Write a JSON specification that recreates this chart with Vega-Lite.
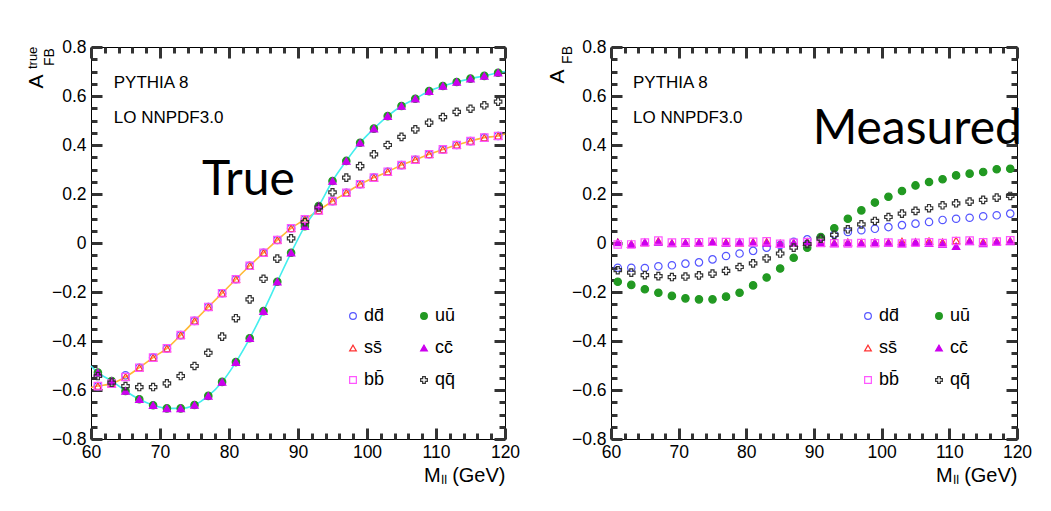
{
  "$schema": "https://vega.github.io/schema/vega-lite/v6.json",
  "background": "white",
  "padding": {"left": 24, "top": 37, "right": 5, "bottom": 5},
  "autosize": {"type": "pad"},
  "config": {
    "view": {"stroke": "#000", "strokeWidth": 1},
    "axis": {"zindex": 1, "labelColor": "#000", "titleColor": "#000", "labelFont": "Liberation Sans", "titleFont": "Liberation Sans", "titleFontWeight": "normal", "grid": false, "domain": false},
    "text": {"font": "Liberation Sans"}
  },
  "datasets": {
    "true_curves": [
      {"m":60,"c":"o","a":-0.590},{"m":61,"c":"o","a":-0.584},{"m":63,"c":"o","a":-0.574},{"m":65,"c":"o","a":-0.547},{"m":67,"c":"o","a":-0.509},{"m":69,"c":"o","a":-0.468},{"m":71,"c":"o","a":-0.430},{"m":73,"c":"o","a":-0.376},{"m":75,"c":"o","a":-0.318},{"m":77,"c":"o","a":-0.261},{"m":79,"c":"o","a":-0.205},{"m":81,"c":"o","a":-0.148},{"m":83,"c":"o","a":-0.093},{"m":85,"c":"o","a":-0.040},{"m":87,"c":"o","a":0.012},{"m":89,"c":"o","a":0.060},{"m":91,"c":"o","a":0.097},{"m":93,"c":"o","a":0.133},{"m":95,"c":"o","a":0.171},{"m":97,"c":"o","a":0.205},{"m":99,"c":"o","a":0.240},{"m":101,"c":"o","a":0.267},{"m":103,"c":"o","a":0.291},{"m":105,"c":"o","a":0.318},{"m":107,"c":"o","a":0.340},{"m":109,"c":"o","a":0.362},{"m":111,"c":"o","a":0.382},{"m":113,"c":"o","a":0.400},{"m":115,"c":"o","a":0.416},{"m":117,"c":"o","a":0.430},{"m":119,"c":"o","a":0.437},{"m":120,"c":"o","a":0.445},
      {"m":60,"c":"c","a":-0.502},{"m":61,"c":"c","a":-0.529},{"m":63,"c":"c","a":-0.563},{"m":65,"c":"c","a":-0.604},{"m":67,"c":"c","a":-0.638},{"m":69,"c":"c","a":-0.662},{"m":71,"c":"c","a":-0.675},{"m":73,"c":"c","a":-0.675},{"m":75,"c":"c","a":-0.661},{"m":77,"c":"c","a":-0.624},{"m":79,"c":"c","a":-0.567},{"m":81,"c":"c","a":-0.486},{"m":83,"c":"c","a":-0.389},{"m":85,"c":"c","a":-0.278},{"m":87,"c":"c","a":-0.158},{"m":89,"c":"c","a":-0.040},{"m":91,"c":"c","a":0.069},{"m":93,"c":"c","a":0.151},{"m":95,"c":"c","a":0.253},{"m":97,"c":"c","a":0.335},{"m":99,"c":"c","a":0.409},{"m":101,"c":"c","a":0.467},{"m":103,"c":"c","a":0.518},{"m":105,"c":"c","a":0.559},{"m":107,"c":"c","a":0.589},{"m":109,"c":"c","a":0.620},{"m":111,"c":"c","a":0.641},{"m":113,"c":"c","a":0.657},{"m":115,"c":"c","a":0.671},{"m":117,"c":"c","a":0.682},{"m":119,"c":"c","a":0.695},{"m":120,"c":"c","a":0.700}
    ],
    "true_points": [
      {"m":61,"s":"dd\u0304","a":-0.584},{"m":63,"s":"dd\u0304","a":-0.574},{"m":65,"s":"dd\u0304","a":-0.540},{"m":67,"s":"dd\u0304","a":-0.509},{"m":69,"s":"dd\u0304","a":-0.468},{"m":71,"s":"dd\u0304","a":-0.430},{"m":73,"s":"dd\u0304","a":-0.376},{"m":75,"s":"dd\u0304","a":-0.318},{"m":77,"s":"dd\u0304","a":-0.261},{"m":79,"s":"dd\u0304","a":-0.205},{"m":81,"s":"dd\u0304","a":-0.148},{"m":83,"s":"dd\u0304","a":-0.093},{"m":85,"s":"dd\u0304","a":-0.040},{"m":87,"s":"dd\u0304","a":0.012},{"m":89,"s":"dd\u0304","a":0.060},{"m":91,"s":"dd\u0304","a":0.097},{"m":93,"s":"dd\u0304","a":0.133},{"m":95,"s":"dd\u0304","a":0.171},{"m":97,"s":"dd\u0304","a":0.205},{"m":99,"s":"dd\u0304","a":0.240},{"m":101,"s":"dd\u0304","a":0.267},{"m":103,"s":"dd\u0304","a":0.291},{"m":105,"s":"dd\u0304","a":0.318},{"m":107,"s":"dd\u0304","a":0.340},{"m":109,"s":"dd\u0304","a":0.362},{"m":111,"s":"dd\u0304","a":0.382},{"m":113,"s":"dd\u0304","a":0.400},{"m":115,"s":"dd\u0304","a":0.416},{"m":117,"s":"dd\u0304","a":0.430},{"m":119,"s":"dd\u0304","a":0.437},
      {"m":61,"s":"uu\u0304","a":-0.529},{"m":63,"s":"uu\u0304","a":-0.563},{"m":65,"s":"uu\u0304","a":-0.604},{"m":67,"s":"uu\u0304","a":-0.638},{"m":69,"s":"uu\u0304","a":-0.662},{"m":71,"s":"uu\u0304","a":-0.675},{"m":73,"s":"uu\u0304","a":-0.675},{"m":75,"s":"uu\u0304","a":-0.661},{"m":77,"s":"uu\u0304","a":-0.624},{"m":79,"s":"uu\u0304","a":-0.567},{"m":81,"s":"uu\u0304","a":-0.486},{"m":83,"s":"uu\u0304","a":-0.389},{"m":85,"s":"uu\u0304","a":-0.278},{"m":87,"s":"uu\u0304","a":-0.158},{"m":89,"s":"uu\u0304","a":-0.040},{"m":91,"s":"uu\u0304","a":0.069},{"m":93,"s":"uu\u0304","a":0.151},{"m":95,"s":"uu\u0304","a":0.253},{"m":97,"s":"uu\u0304","a":0.335},{"m":99,"s":"uu\u0304","a":0.409},{"m":101,"s":"uu\u0304","a":0.467},{"m":103,"s":"uu\u0304","a":0.518},{"m":105,"s":"uu\u0304","a":0.559},{"m":107,"s":"uu\u0304","a":0.589},{"m":109,"s":"uu\u0304","a":0.620},{"m":111,"s":"uu\u0304","a":0.641},{"m":113,"s":"uu\u0304","a":0.657},{"m":115,"s":"uu\u0304","a":0.671},{"m":117,"s":"uu\u0304","a":0.682},{"m":119,"s":"uu\u0304","a":0.695},
      {"m":61,"s":"ss\u0304","a":-0.584},{"m":63,"s":"ss\u0304","a":-0.574},{"m":65,"s":"ss\u0304","a":-0.547},{"m":67,"s":"ss\u0304","a":-0.509},{"m":69,"s":"ss\u0304","a":-0.468},{"m":71,"s":"ss\u0304","a":-0.430},{"m":73,"s":"ss\u0304","a":-0.376},{"m":75,"s":"ss\u0304","a":-0.318},{"m":77,"s":"ss\u0304","a":-0.261},{"m":79,"s":"ss\u0304","a":-0.205},{"m":81,"s":"ss\u0304","a":-0.148},{"m":83,"s":"ss\u0304","a":-0.093},{"m":85,"s":"ss\u0304","a":-0.040},{"m":87,"s":"ss\u0304","a":0.012},{"m":89,"s":"ss\u0304","a":0.060},{"m":91,"s":"ss\u0304","a":0.097},{"m":93,"s":"ss\u0304","a":0.133},{"m":95,"s":"ss\u0304","a":0.171},{"m":97,"s":"ss\u0304","a":0.205},{"m":99,"s":"ss\u0304","a":0.240},{"m":101,"s":"ss\u0304","a":0.267},{"m":103,"s":"ss\u0304","a":0.291},{"m":105,"s":"ss\u0304","a":0.318},{"m":107,"s":"ss\u0304","a":0.340},{"m":109,"s":"ss\u0304","a":0.362},{"m":111,"s":"ss\u0304","a":0.382},{"m":113,"s":"ss\u0304","a":0.400},{"m":115,"s":"ss\u0304","a":0.416},{"m":117,"s":"ss\u0304","a":0.430},{"m":119,"s":"ss\u0304","a":0.437},
      {"m":61,"s":"cc\u0304","a":-0.529},{"m":63,"s":"cc\u0304","a":-0.563},{"m":65,"s":"cc\u0304","a":-0.604},{"m":67,"s":"cc\u0304","a":-0.638},{"m":69,"s":"cc\u0304","a":-0.662},{"m":71,"s":"cc\u0304","a":-0.675},{"m":73,"s":"cc\u0304","a":-0.675},{"m":75,"s":"cc\u0304","a":-0.661},{"m":77,"s":"cc\u0304","a":-0.624},{"m":79,"s":"cc\u0304","a":-0.567},{"m":81,"s":"cc\u0304","a":-0.486},{"m":83,"s":"cc\u0304","a":-0.389},{"m":85,"s":"cc\u0304","a":-0.278},{"m":87,"s":"cc\u0304","a":-0.158},{"m":89,"s":"cc\u0304","a":-0.040},{"m":91,"s":"cc\u0304","a":0.069},{"m":93,"s":"cc\u0304","a":0.151},{"m":95,"s":"cc\u0304","a":0.253},{"m":97,"s":"cc\u0304","a":0.335},{"m":99,"s":"cc\u0304","a":0.409},{"m":101,"s":"cc\u0304","a":0.467},{"m":103,"s":"cc\u0304","a":0.518},{"m":105,"s":"cc\u0304","a":0.559},{"m":107,"s":"cc\u0304","a":0.589},{"m":109,"s":"cc\u0304","a":0.620},{"m":111,"s":"cc\u0304","a":0.641},{"m":113,"s":"cc\u0304","a":0.657},{"m":115,"s":"cc\u0304","a":0.671},{"m":117,"s":"cc\u0304","a":0.682},{"m":119,"s":"cc\u0304","a":0.695},
      {"m":61,"s":"bb\u0304","a":-0.584},{"m":63,"s":"bb\u0304","a":-0.574},{"m":65,"s":"bb\u0304","a":-0.547},{"m":67,"s":"bb\u0304","a":-0.509},{"m":69,"s":"bb\u0304","a":-0.468},{"m":71,"s":"bb\u0304","a":-0.430},{"m":73,"s":"bb\u0304","a":-0.376},{"m":75,"s":"bb\u0304","a":-0.318},{"m":77,"s":"bb\u0304","a":-0.261},{"m":79,"s":"bb\u0304","a":-0.205},{"m":81,"s":"bb\u0304","a":-0.148},{"m":83,"s":"bb\u0304","a":-0.093},{"m":85,"s":"bb\u0304","a":-0.040},{"m":87,"s":"bb\u0304","a":0.012},{"m":89,"s":"bb\u0304","a":0.060},{"m":91,"s":"bb\u0304","a":0.097},{"m":93,"s":"bb\u0304","a":0.133},{"m":95,"s":"bb\u0304","a":0.171},{"m":97,"s":"bb\u0304","a":0.205},{"m":99,"s":"bb\u0304","a":0.240},{"m":101,"s":"bb\u0304","a":0.267},{"m":103,"s":"bb\u0304","a":0.291},{"m":105,"s":"bb\u0304","a":0.318},{"m":107,"s":"bb\u0304","a":0.340},{"m":109,"s":"bb\u0304","a":0.362},{"m":111,"s":"bb\u0304","a":0.382},{"m":113,"s":"bb\u0304","a":0.400},{"m":115,"s":"bb\u0304","a":0.416},{"m":117,"s":"bb\u0304","a":0.430},{"m":119,"s":"bb\u0304","a":0.437},
      {"m":61,"s":"qq\u0304","a":-0.543},{"m":63,"s":"qq\u0304","a":-0.570},{"m":65,"s":"qq\u0304","a":-0.584},{"m":67,"s":"qq\u0304","a":-0.588},{"m":69,"s":"qq\u0304","a":-0.588},{"m":71,"s":"qq\u0304","a":-0.573},{"m":73,"s":"qq\u0304","a":-0.543},{"m":75,"s":"qq\u0304","a":-0.502},{"m":77,"s":"qq\u0304","a":-0.448},{"m":79,"s":"qq\u0304","a":-0.382},{"m":81,"s":"qq\u0304","a":-0.307},{"m":83,"s":"qq\u0304","a":-0.230},{"m":85,"s":"qq\u0304","a":-0.146},{"m":87,"s":"qq\u0304","a":-0.064},{"m":89,"s":"qq\u0304","a":0.019},{"m":91,"s":"qq\u0304","a":0.085},{"m":93,"s":"qq\u0304","a":0.145},{"m":95,"s":"qq\u0304","a":0.207},{"m":97,"s":"qq\u0304","a":0.267},{"m":99,"s":"qq\u0304","a":0.314},{"m":101,"s":"qq\u0304","a":0.362},{"m":103,"s":"qq\u0304","a":0.400},{"m":105,"s":"qq\u0304","a":0.433},{"m":107,"s":"qq\u0304","a":0.464},{"m":109,"s":"qq\u0304","a":0.491},{"m":111,"s":"qq\u0304","a":0.514},{"m":113,"s":"qq\u0304","a":0.535},{"m":115,"s":"qq\u0304","a":0.548},{"m":117,"s":"qq\u0304","a":0.562},{"m":119,"s":"qq\u0304","a":0.577}
    ],
    "meas_points": [
      {"m":61,"s":"dd\u0304","a":-0.101},{"m":63,"s":"dd\u0304","a":-0.101},{"m":65,"s":"dd\u0304","a":-0.102},{"m":67,"s":"dd\u0304","a":-0.095},{"m":69,"s":"dd\u0304","a":-0.091},{"m":71,"s":"dd\u0304","a":-0.084},{"m":73,"s":"dd\u0304","a":-0.079},{"m":75,"s":"dd\u0304","a":-0.067},{"m":77,"s":"dd\u0304","a":-0.053},{"m":79,"s":"dd\u0304","a":-0.043},{"m":81,"s":"dd\u0304","a":-0.032},{"m":83,"s":"dd\u0304","a":-0.019},{"m":85,"s":"dd\u0304","a":-0.008},{"m":87,"s":"dd\u0304","a":0.005},{"m":89,"s":"dd\u0304","a":0.015},{"m":91,"s":"dd\u0304","a":0.022},{"m":93,"s":"dd\u0304","a":0.035},{"m":95,"s":"dd\u0304","a":0.045},{"m":97,"s":"dd\u0304","a":0.052},{"m":99,"s":"dd\u0304","a":0.058},{"m":101,"s":"dd\u0304","a":0.065},{"m":103,"s":"dd\u0304","a":0.073},{"m":105,"s":"dd\u0304","a":0.079},{"m":107,"s":"dd\u0304","a":0.086},{"m":109,"s":"dd\u0304","a":0.094},{"m":111,"s":"dd\u0304","a":0.099},{"m":113,"s":"dd\u0304","a":0.103},{"m":115,"s":"dd\u0304","a":0.109},{"m":117,"s":"dd\u0304","a":0.113},{"m":119,"s":"dd\u0304","a":0.120},
      {"m":61,"s":"uu\u0304","a":-0.158},{"m":63,"s":"uu\u0304","a":-0.171},{"m":65,"s":"uu\u0304","a":-0.189},{"m":67,"s":"uu\u0304","a":-0.203},{"m":69,"s":"uu\u0304","a":-0.216},{"m":71,"s":"uu\u0304","a":-0.226},{"m":73,"s":"uu\u0304","a":-0.230},{"m":75,"s":"uu\u0304","a":-0.230},{"m":77,"s":"uu\u0304","a":-0.219},{"m":79,"s":"uu\u0304","a":-0.203},{"m":81,"s":"uu\u0304","a":-0.173},{"m":83,"s":"uu\u0304","a":-0.141},{"m":85,"s":"uu\u0304","a":-0.104},{"m":87,"s":"uu\u0304","a":-0.060},{"m":89,"s":"uu\u0304","a":-0.019},{"m":91,"s":"uu\u0304","a":0.024},{"m":93,"s":"uu\u0304","a":0.060},{"m":95,"s":"uu\u0304","a":0.099},{"m":97,"s":"uu\u0304","a":0.133},{"m":99,"s":"uu\u0304","a":0.165},{"m":101,"s":"uu\u0304","a":0.189},{"m":103,"s":"uu\u0304","a":0.212},{"m":105,"s":"uu\u0304","a":0.235},{"m":107,"s":"uu\u0304","a":0.249},{"m":109,"s":"uu\u0304","a":0.260},{"m":111,"s":"uu\u0304","a":0.276},{"m":113,"s":"uu\u0304","a":0.283},{"m":115,"s":"uu\u0304","a":0.290},{"m":117,"s":"uu\u0304","a":0.301},{"m":119,"s":"uu\u0304","a":0.303},
      {"m":61,"s":"ss\u0304","a":0.003},{"m":63,"s":"ss\u0304","a":-0.004},{"m":65,"s":"ss\u0304","a":0.002},{"m":67,"s":"ss\u0304","a":0.008},{"m":69,"s":"ss\u0304","a":0.000},{"m":71,"s":"ss\u0304","a":0.001},{"m":73,"s":"ss\u0304","a":0.002},{"m":75,"s":"ss\u0304","a":0.004},{"m":77,"s":"ss\u0304","a":0.003},{"m":79,"s":"ss\u0304","a":0.000},{"m":81,"s":"ss\u0304","a":0.004},{"m":83,"s":"ss\u0304","a":0.005},{"m":85,"s":"ss\u0304","a":-0.002},{"m":87,"s":"ss\u0304","a":0.001},{"m":89,"s":"ss\u0304","a":0.004},{"m":91,"s":"ss\u0304","a":0.002},{"m":93,"s":"ss\u0304","a":0.000},{"m":95,"s":"ss\u0304","a":0.003},{"m":97,"s":"ss\u0304","a":0.001},{"m":99,"s":"ss\u0304","a":0.002},{"m":101,"s":"ss\u0304","a":0.003},{"m":103,"s":"ss\u0304","a":0.006},{"m":105,"s":"ss\u0304","a":0.004},{"m":107,"s":"ss\u0304","a":0.008},{"m":109,"s":"ss\u0304","a":0.003},{"m":111,"s":"ss\u0304","a":0.010},{"m":113,"s":"ss\u0304","a":0.009},{"m":115,"s":"ss\u0304","a":0.004},{"m":117,"s":"ss\u0304","a":0.007},{"m":119,"s":"ss\u0304","a":0.009},
      {"m":61,"s":"cc\u0304","a":0.002},{"m":63,"s":"cc\u0304","a":-0.005},{"m":65,"s":"cc\u0304","a":0.003},{"m":67,"s":"cc\u0304","a":0.004},{"m":69,"s":"cc\u0304","a":-0.002},{"m":71,"s":"cc\u0304","a":0.000},{"m":73,"s":"cc\u0304","a":0.001},{"m":75,"s":"cc\u0304","a":0.003},{"m":77,"s":"cc\u0304","a":0.000},{"m":79,"s":"cc\u0304","a":0.004},{"m":81,"s":"cc\u0304","a":0.001},{"m":83,"s":"cc\u0304","a":0.000},{"m":85,"s":"cc\u0304","a":-0.003},{"m":87,"s":"cc\u0304","a":0.000},{"m":89,"s":"cc\u0304","a":0.003},{"m":91,"s":"cc\u0304","a":0.000},{"m":93,"s":"cc\u0304","a":-0.002},{"m":95,"s":"cc\u0304","a":0.001},{"m":97,"s":"cc\u0304","a":-0.002},{"m":99,"s":"cc\u0304","a":0.002},{"m":101,"s":"cc\u0304","a":0.000},{"m":103,"s":"cc\u0304","a":-0.002},{"m":105,"s":"cc\u0304","a":0.003},{"m":107,"s":"cc\u0304","a":-0.001},{"m":109,"s":"cc\u0304","a":-0.004},{"m":111,"s":"cc\u0304","a":-0.013},{"m":113,"s":"cc\u0304","a":0.006},{"m":115,"s":"cc\u0304","a":-0.002},{"m":117,"s":"cc\u0304","a":0.004},{"m":119,"s":"cc\u0304","a":0.006},
      {"m":61,"s":"bb\u0304","a":-0.006},{"m":63,"s":"bb\u0304","a":-0.006},{"m":65,"s":"bb\u0304","a":0.002},{"m":67,"s":"bb\u0304","a":0.010},{"m":69,"s":"bb\u0304","a":0.002},{"m":71,"s":"bb\u0304","a":0.003},{"m":73,"s":"bb\u0304","a":0.003},{"m":75,"s":"bb\u0304","a":0.005},{"m":77,"s":"bb\u0304","a":0.004},{"m":79,"s":"bb\u0304","a":0.002},{"m":81,"s":"bb\u0304","a":0.005},{"m":83,"s":"bb\u0304","a":0.007},{"m":85,"s":"bb\u0304","a":-0.003},{"m":87,"s":"bb\u0304","a":0.001},{"m":89,"s":"bb\u0304","a":0.004},{"m":91,"s":"bb\u0304","a":0.000},{"m":93,"s":"bb\u0304","a":-0.001},{"m":95,"s":"bb\u0304","a":-0.002},{"m":97,"s":"bb\u0304","a":0.000},{"m":99,"s":"bb\u0304","a":-0.001},{"m":101,"s":"bb\u0304","a":0.002},{"m":103,"s":"bb\u0304","a":-0.002},{"m":105,"s":"bb\u0304","a":0.001},{"m":107,"s":"bb\u0304","a":0.003},{"m":109,"s":"bb\u0304","a":0.000},{"m":111,"s":"bb\u0304","a":0.008},{"m":113,"s":"bb\u0304","a":0.010},{"m":115,"s":"bb\u0304","a":0.003},{"m":117,"s":"bb\u0304","a":0.006},{"m":119,"s":"bb\u0304","a":0.011},
      {"m":61,"s":"qq\u0304","a":-0.111},{"m":63,"s":"qq\u0304","a":-0.121},{"m":65,"s":"qq\u0304","a":-0.131},{"m":67,"s":"qq\u0304","a":-0.135},{"m":69,"s":"qq\u0304","a":-0.139},{"m":71,"s":"qq\u0304","a":-0.137},{"m":73,"s":"qq\u0304","a":-0.132},{"m":75,"s":"qq\u0304","a":-0.125},{"m":77,"s":"qq\u0304","a":-0.114},{"m":79,"s":"qq\u0304","a":-0.098},{"m":81,"s":"qq\u0304","a":-0.083},{"m":83,"s":"qq\u0304","a":-0.063},{"m":85,"s":"qq\u0304","a":-0.043},{"m":87,"s":"qq\u0304","a":-0.019},{"m":89,"s":"qq\u0304","a":-0.004},{"m":91,"s":"qq\u0304","a":0.018},{"m":93,"s":"qq\u0304","a":0.033},{"m":95,"s":"qq\u0304","a":0.056},{"m":97,"s":"qq\u0304","a":0.076},{"m":99,"s":"qq\u0304","a":0.090},{"m":101,"s":"qq\u0304","a":0.106},{"m":103,"s":"qq\u0304","a":0.120},{"m":105,"s":"qq\u0304","a":0.131},{"m":107,"s":"qq\u0304","a":0.142},{"m":109,"s":"qq\u0304","a":0.154},{"m":111,"s":"qq\u0304","a":0.162},{"m":113,"s":"qq\u0304","a":0.169},{"m":115,"s":"qq\u0304","a":0.176},{"m":117,"s":"qq\u0304","a":0.185},{"m":119,"s":"qq\u0304","a":0.192}
    ],
    "notes_left": [{"m":63.3,"a":0.631,"t":"PYTHIA 8"},{"m":63.3,"a":0.491,"t":"LO NNPDF3.0"}],
    "notes_right": [{"m":63.25,"a":0.631,"t":"PYTHIA 8"},{"m":63.25,"a":0.491,"t":"LO NNPDF3.0"}],
    "big_left": [{"m":76.1,"a":0.196,"t":"True"}],
    "big_right": [{"m":89.8,"a":0.404,"t":"Measured"}],
    "sub_left": [{"m":54.64,"a":0.722,"t":"FB"}],
    "sup_left": [{"m":52.17,"a":0.710,"t":"true"}],
    "sub_right": [{"m":54.24,"a":0.731,"t":"FB"}]
  },
  "resolve": {"scale": {"fill": "independent", "stroke": "independent", "shape": "independent", "color": "independent"}},
  "spacing": 24,
  "hconcat": [
    {
      "width": 414, "height": 392,
      "resolve": {"axis": {"x": "independent", "y": "independent"}},
      "layer": [
        {"mark": {"type": "rule", "color": "#9a9a9a", "strokeWidth": 1.5},
         "encoding": {"x": {"datum": 91.19, "type": "quantitative", "scale": {"domain": [60, 120], "nice": false, "zero": false}, "axis": null}}},
        {"mark": {"type": "rule", "color": "#000", "strokeWidth": 1},
         "encoding": {"y": {"datum": 0, "type": "quantitative", "scale": {"domain": [-0.8, 0.8], "nice": false, "zero": false}, "axis": null}}},
        {"data": {"name": "true_curves"},
         "mark": {"type": "line", "interpolate": "monotone", "strokeWidth": 1.6},
         "encoding": {
           "x": {"field": "m", "type": "quantitative", "scale": {"domain": [60, 120], "nice": false, "zero": false},
                 "axis": {"orient": "bottom", "offset": -11, "values": [60,70,80,90,100,110,120], "format": "d", "tickSize": 11, "tickColor": "#333333", "tickWidth": 3, "labelPadding": 4, "labelFontSize": 17.5, "labelFlush": false, "labelOverlap": false, "title": "Mₗₗ (GeV)", "titleAnchor": "end", "titleFontSize": 20, "titlePadding": 5}},
           "y": {"field": "a", "type": "quantitative", "scale": {"domain": [-0.8, 0.8], "nice": false, "zero": false},
                 "axis": {"orient": "left", "offset": -11, "values": [-0.8,-0.6,-0.4,-0.2,0,0.2,0.4,0.6,0.8], "format": ".1~f", "tickSize": 11, "tickColor": "#333333", "tickWidth": 3, "labelPadding": 5, "labelFontSize": 17.5, "labelFlush": false, "labelOverlap": false, "title": "A", "titleAngle": 270, "titleAlign": "left", "titleBaseline": "alphabetic", "titleX": -60, "titleY": 41, "titleFontSize": 21}},
           "color": {"field": "c", "type": "nominal", "scale": {"domain": ["o", "c"], "range": ["#ffb833", "#44eeee"]}, "legend": null}
         }},
        {"data": {"name": "true_points"},
         "mark": {"type": "point", "size": 55, "strokeWidth": 1.2, "opacity": 1},
         "encoding": {
           "x": {"field": "m", "type": "quantitative", "scale": {"domain": [60, 120], "nice": false, "zero": false},
                 "axis": {"orient": "bottom", "offset": -6, "values": [62,64,66,68,72,74,76,78,82,84,86,88,92,94,96,98,102,104,106,108,112,114,116,118], "tickSize": 6, "tickColor": "#333333", "tickWidth": 3, "labels": false, "title": null}},
           "y": {"field": "a", "type": "quantitative", "scale": {"domain": [-0.8, 0.8], "nice": false, "zero": false},
                 "axis": {"orient": "left", "offset": -6, "values": [-0.75,-0.7,-0.65,-0.55,-0.5,-0.45,-0.35,-0.3,-0.25,-0.15,-0.1,-0.05,0.05,0.1,0.15,0.25,0.3,0.35,0.45,0.5,0.55,0.65,0.7,0.75], "tickSize": 6, "tickColor": "#333333", "tickWidth": 3, "labels": false, "title": null}},
           "shape": {"field": "s", "type": "nominal", "scale": {"domain": ["dd\u0304","uu\u0304","ss\u0304","cc\u0304","bb\u0304","qq\u0304"], "range": ["circle","circle","triangle-up","triangle-up","square","cross"]},
                     "legend": {"title": null, "orient": "none", "direction": "horizontal", "legendX": 253, "legendY": 260, "columns": 2, "columnPadding": 30, "rowPadding": 14, "labelFontSize": 18, "labelFont": "Liberation Sans", "labelColor": "#000", "symbolSize": 45, "symbolStrokeWidth": 1.2, "labelOffset": 2, "padding": 0}},
           "fill": {"field": "s", "type": "nominal", "scale": {"domain": ["dd\u0304","uu\u0304","ss\u0304","cc\u0304","bb\u0304","qq\u0304"], "range": ["transparent","#229922","transparent","#cc00ee","transparent","transparent"]},
                     "legend": {"title": null, "orient": "none", "direction": "horizontal", "legendX": 253, "legendY": 260, "columns": 2, "columnPadding": 30, "rowPadding": 14, "labelFontSize": 18, "labelFont": "Liberation Sans", "labelColor": "#000", "symbolSize": 45, "symbolStrokeWidth": 1.2, "labelOffset": 2, "padding": 0}},
           "stroke": {"field": "s", "type": "nominal", "scale": {"domain": ["dd\u0304","uu\u0304","ss\u0304","cc\u0304","bb\u0304","qq\u0304"], "range": ["#5555ff","#229922","#ff3333","#cc00ee","#ff55ff","#333333"]},
                     "legend": {"title": null, "orient": "none", "direction": "horizontal", "legendX": 253, "legendY": 260, "columns": 2, "columnPadding": 30, "rowPadding": 14, "labelFontSize": 18, "labelFont": "Liberation Sans", "labelColor": "#000", "symbolSize": 45, "symbolStrokeWidth": 1.2, "labelOffset": 2, "padding": 0}}
         }},
        {"data": {"name": "notes_left"},
         "mark": {"type": "text", "align": "left", "baseline": "alphabetic", "fontSize": 17, "font": "Liberation Sans", "color": "#000"},
         "encoding": {
           "x": {"field": "m", "type": "quantitative", "scale": {"domain": [60, 120], "nice": false, "zero": false},
                 "axis": {"orient": "top", "offset": -11, "values": [60,70,80,90,100,110,120], "tickSize": 11, "tickColor": "#333333", "tickWidth": 3, "labels": false, "title": null}},
           "y": {"field": "a", "type": "quantitative", "scale": {"domain": [-0.8, 0.8], "nice": false, "zero": false},
                 "axis": {"orient": "right", "offset": -11, "values": [-0.8,-0.6,-0.4,-0.2,0,0.2,0.4,0.6,0.8], "tickSize": 11, "tickColor": "#333333", "tickWidth": 3, "labels": false, "title": null}},
           "text": {"field": "t"}
         }},
        {"data": {"name": "big_left"},
         "mark": {"type": "text", "align": "left", "baseline": "alphabetic", "fontSize": 48, "font": "Lato", "color": "#000"},
         "encoding": {
           "x": {"field": "m", "type": "quantitative", "scale": {"domain": [60, 120], "nice": false, "zero": false},
                 "axis": {"orient": "top", "offset": -6, "values": [62,64,66,68,72,74,76,78,82,84,86,88,92,94,96,98,102,104,106,108,112,114,116,118], "tickSize": 6, "tickColor": "#333333", "tickWidth": 3, "labels": false, "title": null}},
           "y": {"field": "a", "type": "quantitative", "scale": {"domain": [-0.8, 0.8], "nice": false, "zero": false},
                 "axis": {"orient": "right", "offset": -6, "values": [-0.75,-0.7,-0.65,-0.55,-0.5,-0.45,-0.35,-0.3,-0.25,-0.15,-0.1,-0.05,0.05,0.1,0.15,0.25,0.3,0.35,0.45,0.5,0.55,0.65,0.7,0.75], "tickSize": 6, "tickColor": "#333333", "tickWidth": 3, "labels": false, "title": null}},
           "text": {"field": "t"}
         }},
        {"data": {"name": "sub_left"},
         "mark": {"type": "text", "align": "left", "baseline": "alphabetic", "angle": 270, "fontSize": 14, "font": "Liberation Sans", "color": "#000"},
         "encoding": {
           "x": {"field": "m", "type": "quantitative", "scale": {"domain": [60, 120], "nice": false, "zero": false}, "axis": null},
           "y": {"field": "a", "type": "quantitative", "scale": {"domain": [-0.8, 0.8], "nice": false, "zero": false}, "axis": null},
           "text": {"field": "t"}
         }},
        {"data": {"name": "sup_left"},
         "mark": {"type": "text", "align": "left", "baseline": "alphabetic", "angle": 270, "fontSize": 13, "font": "Liberation Sans", "color": "#000"},
         "encoding": {
           "x": {"field": "m", "type": "quantitative", "scale": {"domain": [60, 120], "nice": false, "zero": false}, "axis": null},
           "y": {"field": "a", "type": "quantitative", "scale": {"domain": [-0.8, 0.8], "nice": false, "zero": false}, "axis": null},
           "text": {"field": "t"}
         }}
      ]
    },
    {
      "width": 406, "height": 392,
      "resolve": {"axis": {"x": "independent", "y": "independent"}},
      "layer": [
        {"mark": {"type": "rule", "color": "#444444", "strokeWidth": 1.3},
         "encoding": {"x": {"datum": 91.19, "type": "quantitative", "scale": {"domain": [60, 120], "nice": false, "zero": false}, "axis": null}}},
        {"mark": {"type": "rule", "color": "#000", "strokeWidth": 1},
         "encoding": {"y": {"datum": 0, "type": "quantitative", "scale": {"domain": [-0.8, 0.8], "nice": false, "zero": false}, "axis": null}}},
        {"data": {"name": "meas_points"},
         "mark": {"type": "point", "size": 55, "strokeWidth": 1.2, "opacity": 1},
         "encoding": {
           "x": {"field": "m", "type": "quantitative", "scale": {"domain": [60, 120], "nice": false, "zero": false},
                 "axis": {"orient": "bottom", "offset": -11, "values": [60,70,80,90,100,110,120], "format": "d", "tickSize": 11, "tickColor": "#333333", "tickWidth": 3, "labelPadding": 4, "labelFontSize": 17.5, "labelFlush": false, "labelOverlap": false, "title": "Mₗₗ (GeV)", "titleAnchor": "end", "titleFontSize": 20, "titlePadding": 5}},
           "y": {"field": "a", "type": "quantitative", "scale": {"domain": [-0.8, 0.8], "nice": false, "zero": false},
                 "axis": {"orient": "left", "offset": -11, "values": [-0.8,-0.6,-0.4,-0.2,0,0.2,0.4,0.6,0.8], "format": ".1~f", "tickSize": 11, "tickColor": "#333333", "tickWidth": 3, "labelPadding": 5, "labelFontSize": 17.5, "labelFlush": false, "labelOverlap": false, "title": "A", "titleAngle": 270, "titleAlign": "left", "titleBaseline": "alphabetic", "titleX": -59, "titleY": 36, "titleFontSize": 21}},
           "shape": {"field": "s", "type": "nominal", "scale": {"domain": ["dd\u0304","uu\u0304","ss\u0304","cc\u0304","bb\u0304","qq\u0304"], "range": ["circle","circle","triangle-up","triangle-up","square","cross"]},
                     "legend": {"title": null, "orient": "none", "direction": "horizontal", "legendX": 248, "legendY": 260, "columns": 2, "columnPadding": 30, "rowPadding": 14, "labelFontSize": 18, "labelFont": "Liberation Sans", "labelColor": "#000", "symbolSize": 45, "symbolStrokeWidth": 1.2, "labelOffset": 2, "padding": 0}},
           "fill": {"field": "s", "type": "nominal", "scale": {"domain": ["dd\u0304","uu\u0304","ss\u0304","cc\u0304","bb\u0304","qq\u0304"], "range": ["transparent","#229922","transparent","#cc00ee","transparent","transparent"]},
                     "legend": {"title": null, "orient": "none", "direction": "horizontal", "legendX": 248, "legendY": 260, "columns": 2, "columnPadding": 30, "rowPadding": 14, "labelFontSize": 18, "labelFont": "Liberation Sans", "labelColor": "#000", "symbolSize": 45, "symbolStrokeWidth": 1.2, "labelOffset": 2, "padding": 0}},
           "stroke": {"field": "s", "type": "nominal", "scale": {"domain": ["dd\u0304","uu\u0304","ss\u0304","cc\u0304","bb\u0304","qq\u0304"], "range": ["#5555ff","#229922","#ff3333","#cc00ee","#ff55ff","#333333"]},
                     "legend": {"title": null, "orient": "none", "direction": "horizontal", "legendX": 248, "legendY": 260, "columns": 2, "columnPadding": 30, "rowPadding": 14, "labelFontSize": 18, "labelFont": "Liberation Sans", "labelColor": "#000", "symbolSize": 45, "symbolStrokeWidth": 1.2, "labelOffset": 2, "padding": 0}}
         }},
        {"data": {"name": "notes_right"},
         "mark": {"type": "text", "align": "left", "baseline": "alphabetic", "fontSize": 17, "font": "Liberation Sans", "color": "#000"},
         "encoding": {
           "x": {"field": "m", "type": "quantitative", "scale": {"domain": [60, 120], "nice": false, "zero": false},
                 "axis": {"orient": "bottom", "offset": -6, "values": [62,64,66,68,72,74,76,78,82,84,86,88,92,94,96,98,102,104,106,108,112,114,116,118], "tickSize": 6, "tickColor": "#333333", "tickWidth": 3, "labels": false, "title": null}},
           "y": {"field": "a", "type": "quantitative", "scale": {"domain": [-0.8, 0.8], "nice": false, "zero": false},
                 "axis": {"orient": "left", "offset": -6, "values": [-0.75,-0.7,-0.65,-0.55,-0.5,-0.45,-0.35,-0.3,-0.25,-0.15,-0.1,-0.05,0.05,0.1,0.15,0.25,0.3,0.35,0.45,0.5,0.55,0.65,0.7,0.75], "tickSize": 6, "tickColor": "#333333", "tickWidth": 3, "labels": false, "title": null}},
           "text": {"field": "t"}
         }},
        {"data": {"name": "big_right"},
         "mark": {"type": "text", "align": "left", "baseline": "alphabetic", "fontSize": 48, "font": "Lato", "color": "#000"},
         "encoding": {
           "x": {"field": "m", "type": "quantitative", "scale": {"domain": [60, 120], "nice": false, "zero": false},
                 "axis": {"orient": "top", "offset": -11, "values": [60,70,80,90,100,110,120], "tickSize": 11, "tickColor": "#333333", "tickWidth": 3, "labels": false, "title": null}},
           "y": {"field": "a", "type": "quantitative", "scale": {"domain": [-0.8, 0.8], "nice": false, "zero": false},
                 "axis": {"orient": "right", "offset": -11, "values": [-0.8,-0.6,-0.4,-0.2,0,0.2,0.4,0.6,0.8], "tickSize": 11, "tickColor": "#333333", "tickWidth": 3, "labels": false, "title": null}},
           "text": {"field": "t"}
         }},
        {"data": {"name": "sub_right"},
         "mark": {"type": "text", "align": "left", "baseline": "alphabetic", "angle": 270, "fontSize": 14, "font": "Liberation Sans", "color": "#000"},
         "encoding": {
           "x": {"field": "m", "type": "quantitative", "scale": {"domain": [60, 120], "nice": false, "zero": false},
                 "axis": {"orient": "top", "offset": -6, "values": [62,64,66,68,72,74,76,78,82,84,86,88,92,94,96,98,102,104,106,108,112,114,116,118], "tickSize": 6, "tickColor": "#333333", "tickWidth": 3, "labels": false, "title": null}},
           "y": {"field": "a", "type": "quantitative", "scale": {"domain": [-0.8, 0.8], "nice": false, "zero": false},
                 "axis": {"orient": "right", "offset": -6, "values": [-0.75,-0.7,-0.65,-0.55,-0.5,-0.45,-0.35,-0.3,-0.25,-0.15,-0.1,-0.05,0.05,0.1,0.15,0.25,0.3,0.35,0.45,0.5,0.55,0.65,0.7,0.75], "tickSize": 6, "tickColor": "#333333", "tickWidth": 3, "labels": false, "title": null}},
           "text": {"field": "t"}
         }}
      ]
    }
  ]
}
